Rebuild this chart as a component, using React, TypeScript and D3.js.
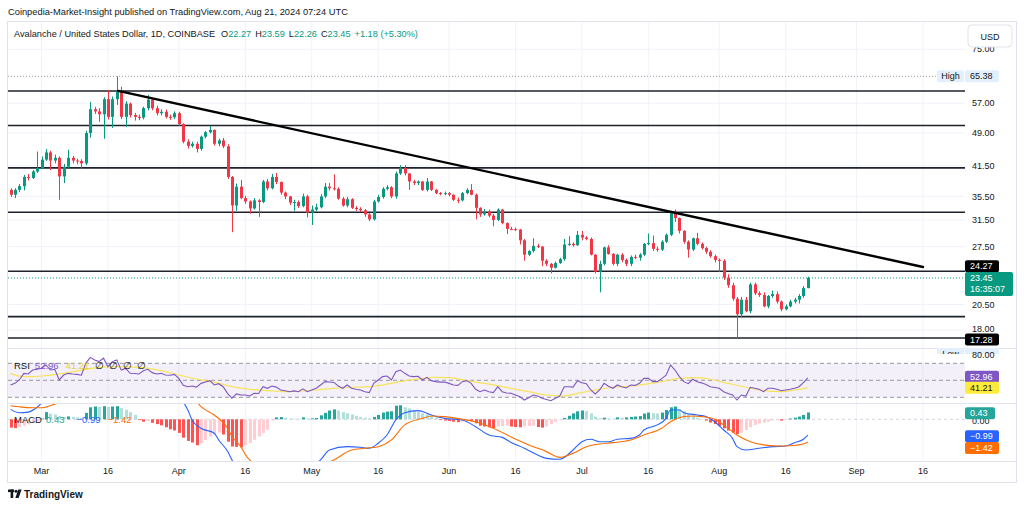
import React from 'react';
import * as d3 from 'd3';

// AVAX/USD daily, 2024-02-23 .. 2024-08-21
const START = Date.UTC(2024, 1, 23);
const FIRST_OPEN = 36.7;

const closes = [
  35.8, 36.7, 37.4, 39.2, 39.0, 40.3, 41.0, 42.8, 44.4, 42.6,
  43.2, 39.3, 41.3, 43.2, 42.6, 42.5, 42.0, 49.0, 55.3, 54.7,
  53.9, 58.2, 53.2, 58.2, 60.6, 53.2, 56.9, 53.7, 53.2, 53.0,
  55.6, 58.1, 55.6, 54.2, 54.6, 53.2, 53.1, 54.2, 51.3, 46.9,
  45.9, 46.4, 45.2, 48.1, 49.2, 49.8, 46.4, 47.2, 45.8, 39.2,
  33.9, 37.3, 35.2, 34.6, 33.4, 34.8, 34.5, 38.3, 37.0, 39.2,
  38.2, 36.2, 35.5, 34.4, 34.5, 33.8, 35.5, 32.7, 33.2, 33.6,
  35.5, 37.3, 37.0, 36.9, 35.1, 33.9, 35.0, 33.5, 33.3, 33.1,
  32.4, 31.6, 34.6, 35.4, 36.9, 37.2, 35.5, 39.9, 41.0, 39.9,
  38.3, 38.0, 38.3, 36.7, 38.3, 36.7, 36.1, 36.0, 36.1, 35.8,
  34.9, 34.8, 36.1, 36.7, 35.8, 33.5, 32.4, 32.9, 32.2, 31.5,
  33.2, 31.0, 30.1, 30.05, 30.0, 28.4, 26.4, 26.9, 27.6, 27.5,
  25.6, 25.2, 24.7, 25.3, 25.8, 27.8, 27.9, 27.7, 29.2, 28.8,
  28.6, 26.4, 24.2, 25.2, 27.4, 26.5, 25.2, 26.4, 25.7, 25.2,
  26.1, 26.0, 26.4, 27.9, 28.0, 27.2, 27.1, 28.2, 29.2, 32.9,
  31.8, 29.8, 28.2, 27.1, 28.7, 27.9, 27.3, 26.8, 26.2, 25.7,
  25.6, 23.5, 22.6, 21.1, 19.5, 21.0, 19.8, 22.7, 21.7, 21.5,
  20.3, 21.4, 21.6, 20.8, 20.0, 20.3, 20.8, 21.0, 21.4, 22.27,
  23.45,
];

const highs = [
  37.0, 37.0, 37.8, 39.6, 39.8, 40.6, 44.6, 43.5, 45.2, 44.8,
  43.9, 43.5, 41.9, 45.0, 43.6, 43.0, 42.9, 49.6, 57.4, 56.0,
  55.6, 58.8, 61.0, 59.0, 65.38, 62.0, 57.6, 57.2, 54.3, 53.8,
  56.0, 59.5, 58.3, 56.3, 55.3, 55.2, 53.8, 54.7, 54.6, 51.5,
  47.5, 46.9, 46.9, 48.4, 49.5, 50.8, 49.9, 47.6, 47.8, 46.3,
  39.4, 37.9, 38.6, 35.6, 34.8, 35.2, 35.0, 38.6, 38.8, 39.8,
  40.0, 38.3, 36.4, 35.6, 34.9, 34.8, 36.0, 35.8, 33.9, 34.2,
  35.9, 38.0, 38.0, 39.7, 37.2, 35.4, 35.4, 35.2, 33.8, 33.6,
  33.3, 32.6, 34.9, 35.8, 37.2, 37.6, 37.4, 40.3, 41.6, 41.6,
  40.0, 38.6, 38.5, 38.4, 39.0, 38.4, 36.9, 36.3, 36.4, 36.3,
  35.9, 35.3, 36.3, 37.0, 37.8, 36.0, 33.6, 33.3, 33.2, 32.5,
  33.4, 33.3, 31.1, 30.4, 30.3, 30.1, 28.6, 27.0, 28.7, 27.9,
  27.6, 25.8, 25.3, 25.5, 26.0, 28.6, 29.0, 28.1, 29.8, 29.8,
  29.0, 28.8, 26.5, 25.6, 27.5, 27.7, 26.6, 26.5, 26.6, 25.9,
  26.3, 26.4, 26.6, 28.0, 29.4, 29.1, 27.5, 28.4, 29.4, 33.0,
  33.2, 31.9, 29.9, 28.4, 28.8, 29.5, 28.1, 27.5, 27.0, 26.4,
  25.9, 25.8, 23.9, 22.9, 21.3, 21.3, 21.3, 22.9, 22.9, 21.9,
  21.8, 21.5, 22.0, 21.9, 20.9, 20.5, 21.0, 21.2, 21.6, 22.5,
  23.59,
];

const lows = [
  35.4, 35.2, 36.3, 36.6, 38.5, 38.8, 40.0, 40.8, 42.5, 40.6,
  42.0, 34.9, 38.0, 41.0, 42.0, 41.8, 40.8, 41.6, 47.9, 54.0,
  51.9, 47.6, 52.5, 50.3, 56.5, 52.6, 50.5, 53.0, 52.2, 52.3,
  52.5, 55.0, 55.0, 53.6, 53.6, 52.8, 52.4, 52.6, 50.8, 46.5,
  45.3, 45.5, 44.4, 44.8, 47.7, 48.9, 46.0, 45.8, 45.4, 38.8,
  29.6, 33.0, 35.0, 34.2, 32.5, 33.2, 32.0, 34.3, 36.6, 36.8,
  37.8, 35.8, 35.0, 34.0, 33.0, 33.5, 33.6, 31.9, 30.7, 32.9,
  33.4, 35.2, 36.6, 36.6, 34.9, 33.7, 33.6, 33.3, 33.0, 32.8,
  32.0, 31.3, 31.4, 34.4, 35.1, 36.6, 35.2, 35.1, 39.6, 39.5,
  36.7, 37.6, 37.6, 36.5, 36.4, 36.5, 35.9, 35.7, 35.7, 35.5,
  34.7, 34.3, 34.6, 35.9, 35.7, 31.6, 32.0, 32.2, 31.9, 30.5,
  31.3, 30.8, 29.3, 29.9, 29.8, 27.8, 25.6, 26.2, 26.7, 27.3,
  24.9, 24.9, 24.0, 24.6, 25.2, 25.6, 27.6, 27.5, 27.6, 28.4,
  28.4, 26.3, 24.0, 21.8, 25.0, 26.4, 25.0, 24.9, 25.4, 24.9,
  24.9, 25.8, 25.6, 26.2, 27.7, 26.9, 26.8, 26.9, 28.0, 29.0,
  31.2, 29.4, 27.9, 26.0, 26.9, 27.7, 27.1, 26.5, 26.0, 25.4,
  24.2, 23.2, 22.3, 20.9, 17.28, 19.2, 19.7, 19.6, 21.5, 21.3,
  20.2, 20.1, 21.2, 20.6, 19.8, 19.9, 20.2, 20.6, 20.6, 21.2,
  22.26,
];

// RSI(14), one value per candle
const rsi = [
  44.5, 46.4, 50.4, 58.2, 57.5, 62.1, 63.0, 64.1, 68.0, 62.1,
  63.0, 50.4, 56.2, 58.2, 57.5, 57.0, 56.0, 70, 77, 74,
  72, 76, 66, 72, 74, 62, 64, 58.2, 58, 57.5,
  61.3, 63, 59, 57.5, 58.2, 56.2, 56, 57, 52.3, 44,
  42.5, 43.3, 42, 46.4, 48, 49.6, 44.5, 46, 42.5, 34.7,
  28.8, 34, 32.7, 32.7, 31.5, 34.7, 34.5, 42.5, 40.6, 43.3,
  42, 38.6, 37.8, 36.6, 37.5, 36.6, 40, 36.6, 38.6, 40.6,
  44.5, 48.4, 48, 47.5, 43.3, 40.6, 44.5, 40.6, 39.4, 38.6,
  36.6, 35.5, 46.4, 50.4, 54.3, 55, 50.4, 60.2, 62.1, 58.2,
  55, 54.3, 54.8, 50.4, 53.5, 49.6, 48.4, 47.8, 48, 46.4,
  44.5, 44, 48.4, 49.6, 46.4, 39.4, 36.6, 38.6, 36.6, 35.5,
  42.5, 36.6, 35, 34.7, 32.7, 30.7, 26.8, 29.5, 32.7, 31.5,
  28.8, 27.5, 26, 29, 31.5, 42.5, 42.5, 42, 49.6, 47.2,
  46, 38.6, 33.9, 38.6, 46.4, 43, 40.6, 44.5, 42.5, 41,
  44.5, 44, 46.4, 52.3, 52.3, 48.4, 48.4, 52, 56, 68,
  62.1, 54.3, 48.4, 46, 51.2, 48.4, 47, 45, 42.5, 41.5,
  40.6, 36.6, 34.5, 32.7, 26.8, 32.7, 31.5, 41.8, 40.6, 39.4,
  36.6, 40.6, 40.6, 39.4, 37.8, 38.6, 39.4, 40.6, 42.5, 47.2,
  52.96,
];

// RSI moving average, sampled
const rsiMaDays = [0, 2, 5, 9, 13, 17, 20, 24, 29, 34, 38, 43, 47, 50, 54, 58, 62, 66, 69, 73, 77, 81, 84, 88, 92, 96, 99, 103, 107, 111, 113, 117, 121, 125, 128, 132, 136, 140, 143, 147, 151, 155, 158, 162, 166, 170, 174, 177, 180];
const rsiMaValues = [58.2, 55, 54.3, 56.2, 59, 62.9, 65.3, 66, 65.3, 61.3, 56.2, 50.4, 46.4, 42.5, 39.4, 37.8, 36.6, 37.4, 38.6, 40.6, 41.8, 42.5, 44.5, 48.4, 51.6, 53.5, 53.1, 49.6, 46.4, 42.5, 40.6, 36.6, 32.7, 31.6, 34.7, 38.6, 41.8, 43.3, 45.3, 48.4, 52.3, 53.1, 51.2, 46.4, 41.8, 37.8, 36.6, 38.6, 41.21];

// MACD(12,26,9) histogram, one value per candle
const macdHist = [
  -0.52, -0.55, -0.48, -0.40, -0.32, -0.22, -0.12, 0.05, 0.45, 0.35,
  0.30, 0.20, 0.15, 0.18, 0.15, 0.12, 0.10, 0.40, 0.75, 0.80,
  0.78, 0.82, 0.78, 0.80, 0.82, 0.70, 0.60, 0.45, 0.28, -0.05,
  -0.15, -0.12, -0.22, -0.30, -0.38, -0.50, -0.62, -0.70, -0.85, -1.15,
  -1.35, -1.45, -1.62, -1.50, -1.30, -1.08, -0.95, -0.82, -0.95, -1.40,
  -1.70, -1.72, -1.75, -1.62, -1.48, -1.28, -1.08, -0.85, -0.65, -0.08,
  0.12, 0.14, 0.10, 0.05, 0.04, 0.03, 0.12, 0.05, 0.06, 0.08,
  0.25, 0.40, 0.55, 0.62, 0.55, 0.45, 0.38, 0.30, 0.22, 0.15,
  0.10, 0.05, 0.15, 0.27, 0.42, 0.48, 0.50, 0.85, 0.88, 0.75,
  0.68, 0.58, 0.48, 0.38, 0.32, 0.22, 0.12, -0.05, -0.08, -0.10,
  -0.15, -0.18, -0.15, -0.10, -0.12, -0.25, -0.40, -0.45, -0.50, -0.55,
  -0.45, -0.42, -0.40, -0.45, -0.48, -0.50, -0.45, -0.42, -0.40, -0.48,
  -0.52, -0.45, -0.30, -0.15, -0.05, 0.08, 0.22, 0.37, 0.50, 0.55,
  0.52, 0.37, 0.17, 0.08, 0.10, 0.06, 0.05, 0.12, 0.10, 0.12,
  0.15, 0.17, 0.20, 0.36, 0.42, 0.38, 0.36, 0.42, 0.58, 0.75,
  0.80, 0.65, 0.50, 0.35, 0.22, 0.10, 0.02, -0.08, -0.20, -0.30,
  -0.42, -0.56, -0.70, -0.84, -0.92, -0.84, -0.67, -0.50, -0.35, -0.25,
  -0.21, -0.15, -0.08, -0.04, -0.08, -0.04, 0.05, 0.10, 0.17, 0.27,
  0.43,
];

// MACD and signal lines, sampled
const macdDays = [0, 2, 4, 6, 8, 12, 16, 20, 24, 28, 32, 36, 38, 40, 41, 43, 46, 47, 49, 50, 52, 54, 56, 58, 60, 64, 68, 70, 72, 76, 79, 81, 83, 85, 87, 89, 92, 95, 98, 102, 105, 108, 111, 113, 116, 119, 121, 124, 127, 129, 131, 133, 135, 137, 140, 142, 143, 146, 148, 149, 151, 152, 155, 157, 159, 161, 163, 164, 166, 169, 172, 175, 177, 179, 180];
const macdValues = [0.62, 0.41, 0.45, 0.75, 1.3, 1.9, 2.2, 3.2, 4.0, 3.8, 3.2, 2.2, 1.5, 0.6, -0.04, -0.56, -0.87, -1.29, -2.0, -2.54, -3.4, -3.9, -4.0, -3.8, -3.5, -3.3, -3.0, -2.54, -1.92, -1.71, -1.75, -1.81, -1.5, -0.98, -0.04, 0.41, 0.54, 0.27, 0.06, -0.04, -0.46, -0.98, -1.13, -1.45, -1.81, -2.23, -2.44, -2.5, -1.92, -1.4, -1.25, -1.4, -1.4, -1.25, -1.19, -0.98, -0.67, -0.35, 0.06, 0.58, 0.58, 0.41, 0.27, 0.17, -0.15, -0.67, -1.19, -1.71, -1.92, -1.81, -1.71, -1.67, -1.46, -1.25, -0.99];
const signalDays = [0, 2, 5, 7, 10, 14, 18, 22, 26, 30, 34, 38, 40, 43, 46, 49, 50, 52, 53, 56, 60, 64, 68, 73, 77, 80, 83, 86, 89, 93, 95, 98, 102, 105, 109, 113, 117, 121, 124, 127, 130, 133, 136, 140, 143, 147, 149, 152, 154, 156, 159, 161, 164, 167, 170, 173, 176, 179, 180];
const signalValues = [0.85, 0.78, 0.72, 0.72, 0.95, 1.3, 1.8, 2.6, 3.3, 3.6, 3.45, 2.4, 1.9, 0.79, 0.27, -0.56, -1.08, -1.71, -2.2, -3.0, -3.45, -3.35, -3.1, -2.54, -1.92, -1.81, -1.71, -1.29, -0.35, 0.06, 0.21, 0.17, 0.0, -0.15, -0.56, -1.1, -1.6, -2.02, -2.38, -2.13, -1.71, -1.54, -1.46, -1.29, -0.98, -0.56, -0.15, 0.17, 0.21, 0.17, 0.0, -0.35, -0.98, -1.4, -1.6, -1.67, -1.65, -1.54, -1.42];

// drawn horizontal levels and the descending trend line
const levels = [60.7, 50.9, 41.04, 32.75, 24.27, 19.27, 17.28];
const trendDays = [24.3, 206];
const trendPrices = [60.7, 24.8];

const priceTicks = [75, 57, 49, 41.5, 35.5, 31.5, 27.5, 20.5, 18];
const tickDates = ['2024-03-01', '2024-03-16', '2024-04-01', '2024-04-16', '2024-05-01', '2024-05-16', '2024-06-01', '2024-06-16', '2024-07-01', '2024-07-16', '2024-08-01', '2024-08-16', '2024-09-01', '2024-09-16'];
const tickLabels = ['Mar', '16', 'Apr', '16', 'May', '16', 'Jun', '16', 'Jul', '16', 'Aug', '16', 'Sep', '16'];

const FONT = '"Liberation Sans", Arial, sans-serif';
const UP = '#089981';
const DOWN = '#F23645';
const DAY = 86400000;
const dayDate = (i: number) => new Date(START + i * DAY);

export default function App() {
  const L = 8, R = 965;
  const mainTop = 22, mainBot = 348;
  const rsiTop = 349, rsiBot = 403;
  const macdTop = 404, macdBot = 461;

  const x = d3.scaleUtc().domain([dayDate(0), dayDate(206)]).range([10.5, 923]);
  const y = d3.scaleLog().domain([18, 57]).range([330, 103.3]);
  const rsiY = d3.scaleLinear().domain([30, 70]).range([397.3, 363.3]);
  const macdY = d3.scaleLinear().domain([-1, 1]).range([435.3, 403.3]);

  const candles = closes.map((c, i) => {
    const o = i === 0 ? FIRST_OPEN : closes[i - 1];
    return { i, date: dayDate(i), open: o, close: c, high: Math.max(highs[i], o, c), low: Math.min(lows[i], o, c) };
  });

  const rsiPath = d3.line<number>().x((_, i) => x(dayDate(i))).y(v => rsiY(v))(rsi) || '';
  const sparse = (days: number[], vals: number[], sy: (v: number) => number) =>
    d3.line<number>().x((d) => x(dayDate(d))).y((_, i) => sy(vals[i])).curve(d3.curveMonotoneX)(days) || '';
  const rsiMaPath = sparse(rsiMaDays, rsiMaValues, rsiY);
  const macdPath = sparse(macdDays, macdValues, macdY);
  const signalPath = sparse(signalDays, signalValues, macdY);

  const zero = macdY(0);
  const tx = (d: string) => x(new Date(d + 'T00:00:00Z'));

  const label = (yy: number, text: string, fill: string, color: string, w = 34, h = 12, x0 = 965) => (
    <g>
      <rect x={x0} y={yy - h / 2} width={w} height={h} rx={2} fill={fill} />
      <text x={x0 + 5} y={yy} dy="0.35em" fontSize={9} fill={color}>{text}</text>
    </g>
  );

  return (
    <div style={{ position: 'absolute', left: 0, top: 0 }}>
      <svg width={1024} height={509} style={{ display: 'block', background: '#fff' }} fontFamily={FONT}>
        <defs>
          <clipPath id="cMain"><rect x={L} y={mainTop} width={R - L} height={mainBot - mainTop} /></clipPath>
          <clipPath id="cRsi"><rect x={L} y={rsiTop} width={R - L} height={rsiBot - rsiTop} /></clipPath>
          <clipPath id="cMacd"><rect x={L} y={macdTop} width={R - L} height={macdBot - macdTop} /></clipPath>
          <clipPath id="cLow"><rect x={930} y={340} width={80} height={14} /></clipPath>
        </defs>
        <rect width={1024} height={509} fill="#fff" />

        <text x={8} y={15} fontSize={9.3} fill="#131722">Coinpedia-Market-Insight published on TradingView.com, Aug 21, 2024 07:24 UTC</text>

        {/* grid */}
        {tickDates.map(d => (
          <line key={d} x1={tx(d)} x2={tx(d)} y1={mainTop} y2={macdBot} stroke="#F0F3FA" />
        ))}
        {priceTicks.map(p => (
          <line key={p} x1={L} x2={R} y1={y(p)} y2={y(p)} stroke="#F0F3FA" />
        ))}

        {/* frame and pane separators */}
        <rect x={7.5} y={21.5} width={1009} height={461} fill="none" stroke="#E0E3EB" />
        <line x1={L} x2={1016} y1={348.5} y2={348.5} stroke="#E0E3EB" />
        <line x1={L} x2={1016} y1={403.5} y2={403.5} stroke="#E0E3EB" />
        <line x1={L} x2={1016} y1={461.5} y2={461.5} stroke="#E0E3EB" />

        {/* main pane */}
        <g clipPath="url(#cMain)">
          <line x1={L} x2={937} y1={y(65.38)} y2={y(65.38)} stroke="#9598A1" strokeDasharray="1 2" />
          {levels.map(p => (
            <line key={p} x1={L} x2={R} y1={y(p)} y2={y(p)} stroke="#1E222D" strokeWidth={1.6} />
          ))}
          <line x1={L} x2={R} y1={y(23.45)} y2={y(23.45)} stroke={UP} strokeDasharray="1 2" />
          {candles.map(c => {
            const cx = Math.round(x(c.date)) + 0.5;
            const color = c.close >= c.open ? UP : DOWN;
            const top = y(Math.max(c.open, c.close));
            const bot = y(Math.min(c.open, c.close));
            return (
              <g key={c.i}>
                <line x1={cx} x2={cx} y1={y(c.high)} y2={y(c.low)} stroke={color} />
                <rect x={cx - 1.5} y={top} width={3} height={Math.max(1, bot - top)} fill={color} />
              </g>
            );
          })}
          <line
            x1={x(dayDate(trendDays[0]))} y1={y(trendPrices[0])}
            x2={x(dayDate(trendDays[1]))} y2={y(trendPrices[1])}
            stroke="#000" strokeWidth={2.4} strokeLinecap="round"
          />
        </g>

        {/* main legend */}
        <text x={14} y={37} fontSize={9.2} fill="#131722">
          Avalanche / United States Dollar, 1D, COINBASE
          <tspan dx={6}>O</tspan><tspan fill={UP}>22.27</tspan>
          <tspan dx={4}>H</tspan><tspan fill={UP}>23.59</tspan>
          <tspan dx={4}>L</tspan><tspan fill={UP}>22.26</tspan>
          <tspan dx={4}>C</tspan><tspan fill={UP}>23.45</tspan>
          <tspan dx={4} fill={UP}>+1.18 (+5.30%)</tspan>
        </text>

        {/* RSI pane */}
        <g clipPath="url(#cRsi)">
          <rect x={L} y={rsiY(70)} width={R - L} height={rsiY(30) - rsiY(70)} fill="#7E57C2" fillOpacity={0.09} />
          {[70, 50, 30].map(v => (
            <line key={v} x1={L} x2={R} y1={rsiY(v)} y2={rsiY(v)} stroke="#9598A1" strokeDasharray="4 3" />
          ))}
          <path d={rsiMaPath} fill="none" stroke="#F7E35A" strokeWidth={1.2} />
          <path d={rsiPath} fill="none" stroke="#7E57C2" strokeWidth={1.1} />
        </g>
        <text x={14} y={366} dy="0.35em" fontSize={9.5} fill="#131722">
          RSI<tspan dx={5} fill="#7E57C2">52.96</tspan><tspan dx={7} fill="#E8D43A">41.21</tspan>
          <tspan dx={6}>∅</tspan><tspan dx={5}>∅</tspan><tspan dx={5}>∅</tspan><tspan dx={5}>∅</tspan>
        </text>

        {/* MACD pane */}
        <g clipPath="url(#cMacd)">
          <line x1={L} x2={R} y1={zero} y2={zero} stroke="#D1D4DC" strokeDasharray="3 3" />
          {macdHist.map((v, i) => {
            const prev = i === 0 ? v : macdHist[i - 1];
            const fill = v >= 0 ? (v >= prev ? '#26A69A' : '#B2DFDB') : (v <= prev ? '#FF5252' : '#FFCDD2');
            const cx = Math.round(x(dayDate(i))) + 0.5;
            const yv = macdY(v);
            return <rect key={i} x={cx - 1.5} width={3} y={Math.min(yv, zero)} height={Math.abs(yv - zero)} fill={fill} />;
          })}
          <path d={macdPath} fill="none" stroke="#2962FF" strokeWidth={1.1} />
          <path d={signalPath} fill="none" stroke="#FF6D00" strokeWidth={1.1} />
        </g>
        <text x={14} y={420} dy="0.35em" fontSize={9.5} fill="#131722">
          MACD<tspan dx={4} fill="#26A69A">0.43</tspan><tspan dx={12} fill="#2962FF">−0.99</tspan><tspan dx={7} fill="#FF6D00">−1.42</tspan>
        </text>

        {/* price axis */}
        {priceTicks.map(p => (
          <text key={p} x={972} y={p === 18 ? y(p) - 1 : y(p)} dy="0.35em" fontSize={9} fill="#131722">{p.toFixed(2)}</text>
        ))}
        <rect x={968} y={25} width={44} height={22} rx={4} fill="#fff" stroke="#E0E3EB" />
        <text x={990} y={36.5} dy="0.35em" fontSize={9} fill="#131722" textAnchor="middle">USD</text>

        <rect x={937} y={y(65.38) - 6} width={27} height={12} rx={2} fill="#E3EFFD" />
        <text x={950.5} y={y(65.38)} dy="0.35em" fontSize={9} fill="#131722" textAnchor="middle">High</text>
        {label(y(65.38), '65.38', '#E3EFFD', '#131722')}
        {label(y(24.27) - 5, '24.27', '#000', '#fff')}
        <rect x={965} y={y(23.45) - 6} width={48} height={24} rx={2} fill={UP} />
        <text x={970} y={y(23.45)} dy="0.35em" fontSize={9} fill="#fff">23.45</text>
        <text x={970} y={y(23.45) + 11} dy="0.35em" fontSize={9} fill="#fff">16:35:07</text>
        {label(y(17.28) + 1.5, '17.28', '#000', '#fff')}

        <g clipPath="url(#cLow)">
          <rect x={937} y={348} width={27} height={12} rx={2} fill="#E3EFFD" />
          <text x={950.5} y={354} dy="0.35em" fontSize={9} fill="#131722" textAnchor="middle">Low</text>
          <rect x={965} y={348} width={34} height={12} rx={2} fill="#E3EFFD" />
        </g>

        {/* RSI axis */}
        <text x={972} y={rsiY(80)} dy="0.35em" fontSize={9} fill="#131722">80.00</text>
        {label(rsiY(52.96) - 1, '52.96', '#7E57C2', '#fff')}
        {label(rsiY(41.21), '41.21', '#FFEB3B', '#131722')}

        {/* MACD axis */}
        <text x={972} y={zero + 2} dy="0.35em" fontSize={9} fill="#131722">0.00</text>
        {label(zero - 6, '0.43', '#26A69A', '#fff', 30)}
        {label(macdY(-0.99) + 1, '−0.99', '#2962FF', '#fff')}
        {label(macdY(-1.42) + 6, '−1.42', '#FF6D00', '#fff')}

        {/* time axis */}
        {tickDates.map((d, i) => (
          <text key={d} x={tx(d)} y={471} dy="0.35em" fontSize={9} fill="#131722" textAnchor="middle">{tickLabels[i]}</text>
        ))}

        {/* footer logo */}
        <g fill="#131722">
          <rect x={8} y={489.5} width={6} height={2.6} />
          <rect x={10.6} y={489.5} width={2.6} height={8.5} />
          <circle cx={16} cy={491.2} r={1.5} />
          <polygon points="18.2,489.5 21.6,489.5 18.6,498 15.4,498" />
        </g>
        <text x={24} y={494} dy="0.35em" fontSize={10} fontWeight={600} fill="#131722">TradingView</text>
      </svg>
    </div>
  );
}
